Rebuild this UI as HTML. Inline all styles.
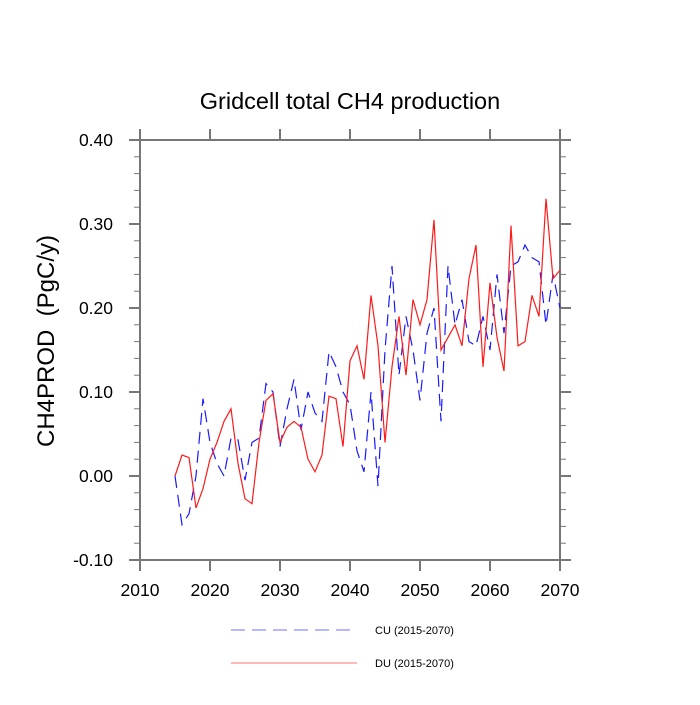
<!DOCTYPE html>
<html><head><meta charset="utf-8"><style>
body{margin:0;background:#fff;}
svg text{font-family:"Liberation Sans",sans-serif;}
</style></head><body>
<svg id="chart" width="700" height="700">
<text x="350" y="109" text-anchor="middle" font-size="23.5">Gridcell total CH4 production</text>
<text transform="translate(54,341) rotate(-90)" text-anchor="middle" font-size="24">CH4PROD&#160;&#160;(PgC/y)</text>
<g id="axes"></g>
<g id="series"></g>
<g>
<line x1="231" y1="630" x2="357" y2="630" stroke="#6f6fff" stroke-width="1" stroke-dasharray="14,7"/>
<text x="375" y="634" font-size="11">CU (2015-2070)</text>
<line x1="231" y1="663" x2="357" y2="663" stroke="#ff7070" stroke-width="1"/>
<text x="375" y="667" font-size="11">DU (2015-2070)</text>
</g>
</svg>
<script>
const years = [];
for (let y = 2015; y <= 2070; y++) years.push(y);
const duValues = [0.00,0.025,0.022,-0.038,-0.015,0.02,0.04,0.065,0.08,0.015,-0.027,-0.033,0.04,0.09,0.098,0.04,0.058,0.065,0.058,0.02,0.005,0.025,0.095,0.092,0.035,0.137,0.155,0.115,0.215,0.155,0.04,0.13,0.19,0.12,0.21,0.18,0.21,0.305,0.15,0.165,0.18,0.155,0.235,0.275,0.13,0.23,0.165,0.125,0.298,0.155,0.16,0.215,0.19,0.33,0.235,0.245];
const cuValues = [0.0,-0.058,-0.045,0.0,0.092,0.04,0.015,0.0,0.045,0.043,-0.005,0.04,0.045,0.11,0.1,0.035,0.08,0.115,0.055,0.1,0.075,0.065,0.148,0.13,0.1,0.085,0.03,0.005,0.1,-0.012,0.15,0.25,0.12,0.19,0.15,0.09,0.17,0.2,0.065,0.25,0.18,0.21,0.16,0.155,0.19,0.15,0.24,0.17,0.25,0.255,0.275,0.26,0.255,0.18,0.24,0.2];
const xTicks = [2010,2020,2030,2040,2050,2060,2070];
const yTicks = [-0.10,0.00,0.10,0.20,0.30,0.40];

const L=140,R=560,T=140,B=560;
const xs = v => L + (v-2010)/(2070-2010)*(R-L);
const ys = v => B - (v+0.10)/0.50*(B-T);
const NS='http://www.w3.org/2000/svg';
const axes=document.getElementById('axes');
function mk(tag,attrs,parent){const e=document.createElementNS(NS,tag);for(const k in attrs)e.setAttribute(k,attrs[k]);parent.appendChild(e);return e;}
const ac='#777';
const frame=mk('rect',{x:L,y:T,width:R-L,height:B-T,fill:'none',stroke:ac,'stroke-width':2},axes);


xTicks.forEach(t=>{
  const x=xs(t);
  mk('line',{x1:x,y1:B,x2:x,y2:B+11,stroke:ac,'stroke-width':2},axes);
  mk('line',{x1:x,y1:T,x2:x,y2:T-11,stroke:ac,'stroke-width':2},axes);
  const tx=mk('text',{x:x,y:B+36,'text-anchor':'middle','font-size':17.5},axes);
  tx.textContent=t;
  
  
});
for(let v=-0.10;v<=0.4001;v+=0.02){
  const y=ys(v);
  const major=Math.abs(Math.round(v*100)%10)<0.5;
  const len=major?11:6;
  mk('line',{x1:L,y1:y,x2:L-len,y2:y,stroke:ac,'stroke-width':major?2:1},axes);
  mk('line',{x1:R,y1:y,x2:R+len,y2:y,stroke:ac,'stroke-width':major?2:1},axes);
}
yTicks.forEach(t=>{
  const tx=mk('text',{x:113,y:ys(t)+6,'text-anchor':'end','font-size':17.5},axes);
  tx.textContent=t.toFixed(2);
  
  
});
const g=document.getElementById('series');
const pts=a=>a.map((v,i)=>xs(years[i])+','+ys(v)).join(' ');
const cu=mk('polyline',{points:pts(cuValues),fill:'none',stroke:'#1a1aff','stroke-width':1.2,'stroke-dasharray':'12,7'},g);


const du=mk('polyline',{points:pts(duValues),fill:'none',stroke:'#ff1a1a','stroke-width':1.2},g);


</script>
</body></html>
